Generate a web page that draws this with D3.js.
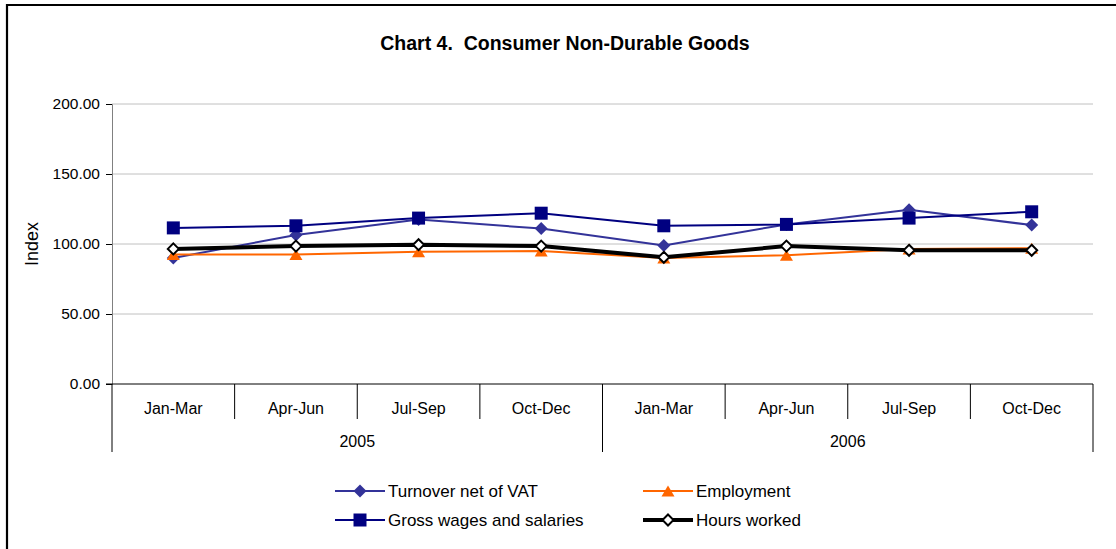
<!DOCTYPE html>
<html>
<head>
<meta charset="utf-8">
<script src="https://cdn.jsdelivr.net/npm/d3@7"></script>
<style>
  html, body { margin: 0; padding: 0; background: #fff; }
  svg { display: block; font-family: "Liberation Sans", Arial, sans-serif; }
</style>
</head>
<body>
<svg id="chart" width="1116" height="549"></svg>
<script>
const title = "Chart 4.  Consumer Non-Durable Goods";
const quarters = ["Jan-Mar", "Apr-Jun", "Jul-Sep", "Oct-Dec", "Jan-Mar", "Apr-Jun", "Jul-Sep", "Oct-Dec"];
const years = ["2005", "2006"];
const yTicks = [0, 50, 100, 150, 200];
const seriesNames = ["Turnover net of VAT", "Employment", "Gross wages and salaries", "Hours worked"];
const turnover = [90, 106.5, 117.5, 111, 99, 114, 124.5, 113.5];
const employment = [92.5, 92.5, 94.5, 95, 90, 92, 96.5, 97];
const grossWages = [111.5, 113, 118.5, 122, 113, 114, 118.5, 123];
const hoursWorked = [96.5, 98.5, 99.5, 98.5, 90.5, 98.5, 95.5, 95.5];

const svg = d3.select("#chart");
const W = 1116, H = 549;
const plot = { left: 112, right: 1093, top: 104, bottom: 384 };

// outer frame (top & left visible; chart area cropped on right/bottom)
svg.append("path")
  .attr("d", `M7,${H + 5} L7,5 L${W + 5},5`)
  .attr("fill", "none").attr("stroke", "#000").attr("stroke-width", 2.2);

svg.append("text")
  .attr("x", 565).attr("y", 50)
  .attr("text-anchor", "middle")
  .attr("font-weight", "bold").attr("font-size", 19.5)
  .style("white-space", "pre")
  .text(title);

const x = d3.scaleBand().domain(d3.range(quarters.length)).range([plot.left, plot.right]).paddingInner(0).paddingOuter(0);
const y = d3.scaleLinear().domain([0, 200]).range([plot.bottom, plot.top]);
const cx = i => x(i) + x.bandwidth() / 2;

// gridlines
svg.append("g").selectAll("line").data(yTicks.filter(d => d > 0)).join("line")
  .attr("x1", plot.left).attr("x2", plot.right)
  .attr("y1", d => y(d)).attr("y2", d => y(d))
  .attr("stroke", "#c0c0c0").attr("stroke-width", 1);

// y axis
const yAxis = svg.append("g").attr("transform", `translate(${plot.left},0)`)
  .call(d3.axisLeft(y).tickValues(yTicks).tickFormat(d3.format(".2f")).tickSize(6).tickPadding(6));
yAxis.select(".domain").attr("stroke", "#808080");
yAxis.selectAll(".tick line").attr("stroke", "#000");
yAxis.selectAll("text").attr("font-size", 15.5).attr("fill", "#000").attr("font-family", "Liberation Sans, Arial, sans-serif");

svg.append("text")
  .attr("transform", `translate(38,${(plot.top + plot.bottom) / 2}) rotate(-90)`)
  .attr("text-anchor", "middle").attr("font-size", 18)
  .text("Index");

// category axis
svg.append("line").attr("x1", plot.left - 6).attr("x2", plot.right)
  .attr("y1", plot.bottom).attr("y2", plot.bottom).attr("stroke", "#000");
const bounds = d3.range(quarters.length + 1);
svg.append("g").selectAll("line").data(bounds).join("line")
  .attr("x1", i => i < quarters.length ? x(i) : plot.right)
  .attr("x2", i => i < quarters.length ? x(i) : plot.right)
  .attr("y1", plot.bottom)
  .attr("y2", i => (i % 4 === 0) ? 452 : 419)
  .attr("stroke", "#000");
svg.append("g").selectAll("text").data(quarters).join("text")
  .attr("x", (d, i) => cx(i)).attr("y", 414)
  .attr("text-anchor", "middle").attr("font-size", 16)
  .text(d => d);
svg.append("g").selectAll("text").data(years).join("text")
  .attr("x", (d, i) => (cx(i * 4) + cx(i * 4 + 3)) / 2).attr("y", 447)
  .attr("text-anchor", "middle").attr("font-size", 16)
  .text(d => d);

// marker shapes
const diamond = r => `M0,${-r}L${r},0L0,${r}L${-r},0Z`;
const square = s => `M${-s / 2},${-s / 2}h${s}v${s}h${-s}Z`;
const triangle = (w, h) => `M0,${-h / 2}L${w / 2},${h / 2}L${-w / 2},${h / 2}Z`;

const series = [
  { name: seriesNames[0], values: turnover, color: "#333399", width: 2, marker: diamond(6.5), fill: "#333399", mstroke: "none", msw: 0 },
  { name: seriesNames[1], values: employment, color: "#FF6600", width: 2, marker: triangle(13, 11), fill: "#FF6600", mstroke: "none", msw: 0 },
  { name: seriesNames[2], values: grossWages, color: "#000080", width: 2, marker: square(13), fill: "#000080", mstroke: "none", msw: 0 },
  { name: seriesNames[3], values: hoursWorked, color: "#000000", width: 4, marker: diamond(5.5), fill: "#ffffff", mstroke: "#000", msw: 2 }
];

const line = d3.line().x((d, i) => cx(i)).y(d => y(d));
series.forEach(s => {
  const g = svg.append("g");
  g.append("path").attr("d", line(s.values)).attr("fill", "none")
    .attr("stroke", s.color).attr("stroke-width", s.width).attr("stroke-linejoin", "round");
  g.selectAll("path.m").data(s.values).join("path").attr("class", "m")
    .attr("transform", (d, i) => `translate(${cx(i)},${y(d)})`)
    .attr("d", s.marker).attr("fill", s.fill)
    .attr("stroke", s.mstroke).attr("stroke-width", s.msw);
});

// legend
const legendPos = [
  { x: 335, y: 491 }, { x: 643, y: 491 }, { x: 335, y: 520 }, { x: 643, y: 520 }
];
series.forEach((s, k) => {
  const p = legendPos[k];
  const g = svg.append("g").attr("transform", `translate(${p.x},${p.y})`);
  g.append("line").attr("x1", 0).attr("x2", 50).attr("y1", 0).attr("y2", 0)
    .attr("stroke", s.color).attr("stroke-width", s.width);
  g.append("path").attr("transform", "translate(25,0)").attr("d", s.marker)
    .attr("fill", s.fill).attr("stroke", s.mstroke).attr("stroke-width", s.msw);
  g.append("text").attr("x", 53).attr("y", 6).attr("font-size", 17).text(s.name);
});
</script>
</body>
</html>
